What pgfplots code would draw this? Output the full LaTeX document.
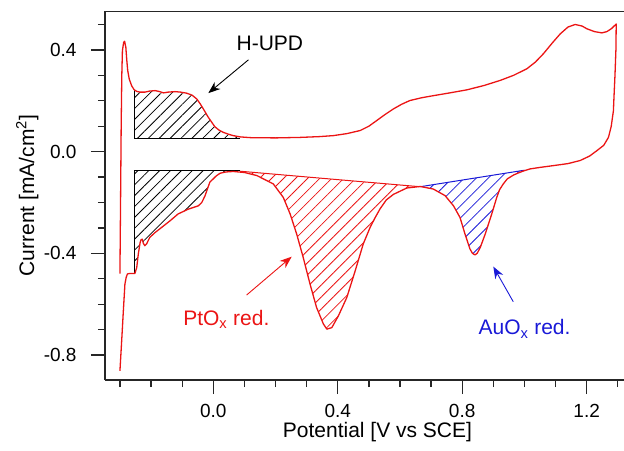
\documentclass[border=0pt]{standalone}
\usepackage{fontspec}
\setmainfont{Liberation Sans}
\usepackage{pgfplots}
\pgfplotsset{compat=1.18}
\usetikzlibrary{patterns.meta,arrows.meta}

\definecolor{cvred}{RGB}{235,20,20}
\definecolor{cvblue}{RGB}{25,25,215}

\begin{document}
\begin{tikzpicture}
\begin{axis}[
  width=519pt, height=369pt, scale only axis,
  xmin=-0.348, xmax=1.32, ymin=-0.898, ymax=0.553,
  axis x line*=bottom, axis y line*=left,
  axis line style={-, line width=1.3pt, black!85},
  xtick={0,0.4,0.8,1.2}, xticklabels={0.0,0.4,0.8,1.2},
  ytick={-0.8,-0.4,0,0.4}, yticklabels={-0.8,-0.4,0.0,0.4},
  minor xtick={-0.3,-0.2,-0.1,0.1,0.2,0.3,0.5,0.6,0.7,0.9,1.0,1.1,1.3},
  minor ytick={-0.7,-0.6,-0.5,-0.3,-0.2,-0.1,0.1,0.2,0.3,0.5},
  tick align=outside, major tick length=14pt, minor tick length=7pt,
  every tick/.style={black!85, line width=1.3pt},
  tick label style={font=\fontsize{19}{22}\selectfont},
  xticklabel style={inner sep=0pt, yshift=-10.3pt},
  yticklabel style={inner sep=0pt, xshift=-14.3pt},
  label style={font=\fontsize{21}{25}\selectfont},
  xlabel={Potential [V vs SCE]},
  ylabel={Current [mA/cm\textsuperscript{2}]},
  xlabel style={at={(axis description cs:0.525,-0.1558)}, anchor=base, inner sep=0pt},
  ylabel style={at={(axis description cs:-0.1368,0.5)}, anchor=base, inner sep=0pt},
]
% hatched areas
\addplot[draw=none, pattern={Lines[angle=45,distance=7.7pt,line width=0.8pt]}, pattern color=black]
 coordinates {(-0.252,0.052)(-0.252,0.243)(-0.246,0.237)(-0.235,0.234)(-0.220,0.234)(-0.205,0.238)(-0.187,0.240)(-0.172,0.236)(-0.160,0.231)(-0.145,0.234)(-0.123,0.236)(-0.105,0.234)(-0.086,0.230)(-0.068,0.222)(-0.053,0.207)(-0.042,0.188)(-0.032,0.168)(-0.016,0.135)(0.005,0.098)(0.018,0.085)(0.032,0.076)(0.050,0.068)(0.064,0.063)(0.086,0.058)(0.086,0.052)} -- cycle;
\addplot[draw=none, pattern={Lines[angle=45,distance=7.7pt,line width=0.8pt]}, pattern color=black]
 coordinates {(-0.252,-0.076)(0.086,-0.076)(0.064,-0.078)(0.040,-0.080)(0.022,-0.085)(0.010,-0.095)(-0.011,-0.120)(-0.027,-0.175)(-0.037,-0.200)(-0.048,-0.213)(-0.080,-0.226)(-0.113,-0.245)(-0.139,-0.272)(-0.166,-0.298)(-0.187,-0.318)(-0.204,-0.337)(-0.214,-0.362)(-0.220,-0.370)(-0.225,-0.360)(-0.228,-0.344)(-0.232,-0.346)(-0.235,-0.357)(-0.241,-0.403)(-0.246,-0.456)(-0.252,-0.479)} -- cycle;
\addplot[draw=none, pattern={Lines[angle=45,distance=8.5pt,line width=0.8pt]}, pattern color=cvred]
 coordinates {(0.086,-0.077)(0.665,-0.138)(0.622,-0.143)(0.579,-0.168)(0.556,-0.19)(0.536,-0.225)(0.52,-0.26)(0.504,-0.298)(0.482,-0.363)(0.456,-0.469)(0.429,-0.574)(0.402,-0.646)(0.381,-0.692)(0.365,-0.698)(0.354,-0.678)(0.332,-0.613)(0.311,-0.521)(0.289,-0.416)(0.268,-0.324)(0.247,-0.245)(0.225,-0.180)(0.193,-0.127)(0.14,-0.094)(0.100,-0.082)} -- cycle;
\addplot[draw=none, pattern={Lines[angle=45,distance=8.5pt,line width=0.8pt]}, pattern color=cvblue]
 coordinates {(0.665,-0.138)(1.0,-0.073)(0.997,-0.076)(0.98,-0.084)(0.965,-0.092)(0.945,-0.107)(0.932,-0.127)(0.92,-0.150)(0.911,-0.180)(0.895,-0.245)(0.874,-0.324)(0.858,-0.377)(0.848,-0.400)(0.841,-0.406)(0.833,-0.400)(0.825,-0.383)(0.809,-0.324)(0.793,-0.259)(0.772,-0.213)(0.745,-0.173)(0.707,-0.147)} -- cycle;
% outlines of the areas
\addplot[black, line width=1pt] coordinates {(-0.252,0.243)(-0.252,0.052)(0.086,0.052)};
\addplot[black, line width=1pt] coordinates {(-0.252,-0.479)(-0.252,-0.076)(0.086,-0.076)};
\addplot[cvred, line width=1pt] coordinates {(0.086,-0.077)(0.665,-0.138)};
\addplot[cvblue, line width=1pt] coordinates {(0.665,-0.138)(1.0,-0.073)};
% cyclic voltammogram
\addplot[cvred, line width=1.3pt, line join=round] coordinates {
(-0.300,-0.480)(-0.298,-0.20)(-0.296,0.10)(-0.294,0.30)(-0.292,0.397)(-0.288,0.430)(-0.285,0.434)(-0.281,0.41)(-0.278,0.36)(-0.275,0.319)(-0.270,0.285)(-0.262,0.258)(-0.254,0.243)(-0.246,0.237)(-0.235,0.234)(-0.220,0.234)(-0.205,0.238)(-0.187,0.240)(-0.172,0.236)(-0.160,0.231)(-0.145,0.234)(-0.123,0.236)(-0.105,0.234)(-0.086,0.230)(-0.068,0.222)(-0.053,0.207)(-0.042,0.188)(-0.032,0.168)(-0.016,0.135)(0.005,0.098)(0.018,0.085)(0.032,0.076)(0.050,0.068)(0.064,0.063)(0.086,0.058)(0.12,0.055)(0.2,0.054)(0.28,0.056)(0.34,0.059)(0.386,0.063)(0.43,0.071)(0.472,0.083)(0.500,0.100)(0.525,0.122)(0.552,0.146)(0.579,0.168)(0.605,0.186)(0.632,0.201)(0.67,0.212)(0.707,0.220)(0.76,0.231)(0.815,0.243)(0.87,0.260)(0.922,0.280)(0.965,0.300)(1.008,0.326)(1.035,0.352)(1.061,0.385)(1.09,0.428)(1.115,0.463)(1.14,0.490)(1.163,0.500)(1.185,0.494)(1.201,0.483)(1.225,0.472)(1.249,0.467)(1.265,0.472)(1.280,0.484)(1.295,0.502)
(1.294,0.40)(1.291,0.30)(1.288,0.22)(1.286,0.161)(1.279,0.10)(1.270,0.056)(1.255,0.025)(1.233,0.004)(1.21,-0.017)(1.179,-0.035)(1.14,-0.047)(1.093,-0.055)(1.05,-0.062)(1.018,-0.068)(0.997,-0.076)(0.98,-0.084)(0.965,-0.092)(0.945,-0.107)(0.932,-0.127)(0.92,-0.150)(0.911,-0.180)(0.895,-0.245)(0.874,-0.324)(0.858,-0.377)(0.848,-0.400)(0.841,-0.406)(0.833,-0.400)(0.825,-0.383)(0.809,-0.324)(0.793,-0.259)(0.772,-0.213)(0.745,-0.173)(0.707,-0.147)(0.665,-0.137)(0.622,-0.143)(0.579,-0.168)(0.556,-0.19)(0.536,-0.225)(0.52,-0.26)(0.504,-0.298)(0.482,-0.363)(0.456,-0.469)(0.429,-0.574)(0.402,-0.646)(0.381,-0.692)(0.365,-0.698)(0.354,-0.678)(0.332,-0.613)(0.311,-0.521)(0.289,-0.416)(0.268,-0.324)(0.247,-0.245)(0.225,-0.180)(0.193,-0.127)(0.14,-0.094)(0.100,-0.082)(0.064,-0.078)(0.040,-0.080)(0.022,-0.085)(0.010,-0.095)(-0.011,-0.120)(-0.027,-0.175)(-0.037,-0.200)(-0.048,-0.213)(-0.080,-0.226)(-0.113,-0.245)(-0.139,-0.272)(-0.166,-0.298)(-0.187,-0.318)(-0.204,-0.337)(-0.214,-0.362)(-0.220,-0.370)(-0.225,-0.360)(-0.228,-0.344)(-0.232,-0.346)(-0.235,-0.357)(-0.241,-0.403)(-0.246,-0.456)(-0.252,-0.479)(-0.268,-0.479)(-0.276,-0.481)(-0.280,-0.495)(-0.284,-0.521)(-0.289,-0.626)(-0.295,-0.757)(-0.300,-0.862)};
% annotations
\node[font=\fontsize{21}{25}\selectfont] at (axis cs:0.182,0.424) {H-UPD};
\draw[-{Stealth[length=12pt,width=9pt]}, line width=0.9pt, black] (axis cs:0.113,0.361) -- (axis cs:-0.016,0.230);
\node[anchor=base west, inner sep=0pt, text=cvred, font=\fontsize{21}{25}\selectfont] at (axis cs:-0.097,-0.685) {PtO\textsubscript{x} red.};
\draw[-{Stealth[length=12pt,width=9pt]}, line width=0.9pt, cvred] (axis cs:0.107,-0.564) -- (axis cs:0.252,-0.413);
\node[anchor=base west, inner sep=0pt, text=cvblue, font=\fontsize{21}{25}\selectfont] at (axis cs:0.852,-0.721) {AuO\textsubscript{x} red.};
\draw[-{Stealth[length=12pt,width=9pt]}, line width=0.9pt, cvblue] (axis cs:0.964,-0.590) -- (axis cs:0.900,-0.452);
% top frame line
\draw[line width=1.3pt, black!85] (rel axis cs:0,1) -- (rel axis cs:1,1);
\end{axis}
\pgfresetboundingbox
\path[use as bounding box] (current axis.south west) ++(-105pt,-70pt) rectangle ++(624pt,450pt);
\end{tikzpicture}
\end{document}
